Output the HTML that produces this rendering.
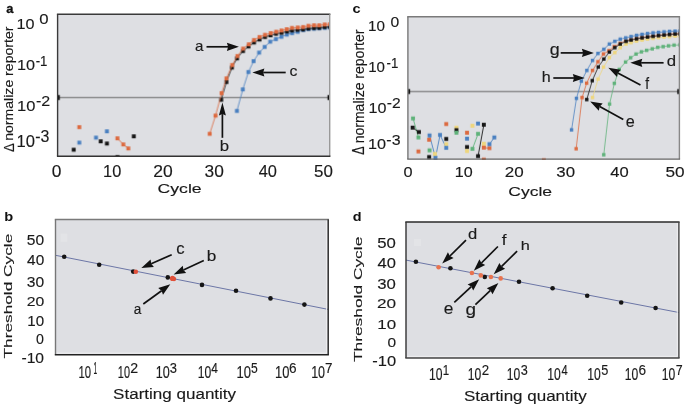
<!DOCTYPE html>
<html><head><meta charset="utf-8"><style>
html,body{margin:0;padding:0;background:#fff;}
svg{display:block;will-change:transform;}
text{font-family:"Liberation Sans",sans-serif;}
</style></head><body>
<svg width="685" height="406" viewBox="0 0 685 406">
<rect width="685" height="406" fill="#fff"/>
<rect x="57.6" y="14.2" width="272.09999999999997" height="142.0" fill="#dedfe3"/>
<svg x="57.6" y="14.2" width="272.09999999999997" height="142.0" overflow="hidden"><g transform="translate(-57.6,-14.2)">
<line x1="57.6" y1="97.5" x2="329.7" y2="97.5" stroke="#666666" stroke-width="1.0"/>
<rect x="57.6" y="95.0" width="2.2" height="5" fill="#111"/>
<rect x="327.5" y="95.0" width="2.2" height="5" fill="#111"/>
<polyline points="236.9,110.9 242.8,89.4 248.4,72.0 253.6,61.1 259.1,52.6 264.7,46.9 270.2,41.7 275.9,39.1 281.4,36.8 286.8,34.6 292.1,33.1 297.7,31.8 303.3,30.1 308.4,29.2 314.0,28.8 319.2,28.4 324.8,27.9 330.0,27.6" fill="none" stroke="#4a80c0" stroke-width="0.8"/>
<rect x="234.95" y="108.95" width="3.9" height="3.9" fill="#4a80c0"/>
<rect x="240.85" y="87.45" width="3.9" height="3.9" fill="#4a80c0"/>
<rect x="246.45" y="70.05" width="3.9" height="3.9" fill="#4a80c0"/>
<rect x="251.65" y="59.15" width="3.9" height="3.9" fill="#4a80c0"/>
<rect x="257.15" y="50.65" width="3.9" height="3.9" fill="#4a80c0"/>
<rect x="262.75" y="44.95" width="3.9" height="3.9" fill="#4a80c0"/>
<rect x="268.25" y="39.75" width="3.9" height="3.9" fill="#4a80c0"/>
<rect x="273.95" y="37.15" width="3.9" height="3.9" fill="#4a80c0"/>
<rect x="279.45" y="34.85" width="3.9" height="3.9" fill="#4a80c0"/>
<rect x="284.85" y="32.65" width="3.9" height="3.9" fill="#4a80c0"/>
<rect x="290.15" y="31.15" width="3.9" height="3.9" fill="#4a80c0"/>
<rect x="295.75" y="29.85" width="3.9" height="3.9" fill="#4a80c0"/>
<rect x="301.35" y="28.15" width="3.9" height="3.9" fill="#4a80c0"/>
<rect x="306.45" y="27.25" width="3.9" height="3.9" fill="#4a80c0"/>
<rect x="312.05" y="26.85" width="3.9" height="3.9" fill="#4a80c0"/>
<rect x="317.25" y="26.45" width="3.9" height="3.9" fill="#4a80c0"/>
<rect x="322.85" y="25.95" width="3.9" height="3.9" fill="#4a80c0"/>
<rect x="328.05" y="25.65" width="3.9" height="3.9" fill="#4a80c0"/>
<polyline points="221.2,99.8 226.4,82.0 231.9,67.6 237.0,58.4 243.0,51.0 248.5,46.5 254.0,42.5 259.5,39.5 265.0,37.0 270.5,35.3 276.0,33.8 281.5,32.8 287.0,31.5 292.0,30.5 297.5,29.8 303.0,29.5 308.4,28.5 314.0,28.0 319.2,27.8 324.7,27.0 330.0,26.8" fill="none" stroke="#151515" stroke-width="0.8"/>
<rect x="219.25" y="97.85" width="3.9" height="3.9" fill="#151515"/>
<rect x="224.45" y="80.05" width="3.9" height="3.9" fill="#151515"/>
<rect x="229.95" y="65.65" width="3.9" height="3.9" fill="#151515"/>
<rect x="235.05" y="56.45" width="3.9" height="3.9" fill="#151515"/>
<rect x="241.05" y="49.05" width="3.9" height="3.9" fill="#151515"/>
<rect x="246.55" y="44.55" width="3.9" height="3.9" fill="#151515"/>
<rect x="252.05" y="40.55" width="3.9" height="3.9" fill="#151515"/>
<rect x="257.55" y="37.55" width="3.9" height="3.9" fill="#151515"/>
<rect x="263.05" y="35.05" width="3.9" height="3.9" fill="#151515"/>
<rect x="268.55" y="33.35" width="3.9" height="3.9" fill="#151515"/>
<rect x="274.05" y="31.85" width="3.9" height="3.9" fill="#151515"/>
<rect x="279.55" y="30.85" width="3.9" height="3.9" fill="#151515"/>
<rect x="285.05" y="29.55" width="3.9" height="3.9" fill="#151515"/>
<rect x="290.05" y="28.55" width="3.9" height="3.9" fill="#151515"/>
<rect x="295.55" y="27.85" width="3.9" height="3.9" fill="#151515"/>
<rect x="301.05" y="27.55" width="3.9" height="3.9" fill="#151515"/>
<rect x="306.45" y="26.55" width="3.9" height="3.9" fill="#151515"/>
<rect x="312.05" y="26.05" width="3.9" height="3.9" fill="#151515"/>
<rect x="317.25" y="25.85" width="3.9" height="3.9" fill="#151515"/>
<rect x="322.75" y="25.05" width="3.9" height="3.9" fill="#151515"/>
<rect x="328.05" y="24.85" width="3.9" height="3.9" fill="#151515"/>
<polyline points="209.7,133.8 215.5,115.6 221.6,93.1 226.4,78.4 232.2,65.0 237.4,56.0 243.1,48.6 248.8,44.3 254.0,40.0 259.5,37.0 265.0,34.8 270.7,33.1 276.2,31.7 281.5,30.5 286.7,29.2 292.0,27.9 297.7,27.5 303.1,27.0 308.4,25.8 314.0,25.3 319.2,25.3 324.7,24.5 330.0,24.2" fill="none" stroke="#dc6a40" stroke-width="0.8"/>
<rect x="207.75" y="131.85" width="3.9" height="3.9" fill="#dc6a40"/>
<rect x="213.55" y="113.65" width="3.9" height="3.9" fill="#dc6a40"/>
<rect x="219.65" y="91.15" width="3.9" height="3.9" fill="#dc6a40"/>
<rect x="224.45" y="76.45" width="3.9" height="3.9" fill="#dc6a40"/>
<rect x="230.25" y="63.05" width="3.9" height="3.9" fill="#dc6a40"/>
<rect x="235.45" y="54.05" width="3.9" height="3.9" fill="#dc6a40"/>
<rect x="241.15" y="46.65" width="3.9" height="3.9" fill="#dc6a40"/>
<rect x="246.85" y="42.35" width="3.9" height="3.9" fill="#dc6a40"/>
<rect x="252.05" y="38.05" width="3.9" height="3.9" fill="#dc6a40"/>
<rect x="257.55" y="35.05" width="3.9" height="3.9" fill="#dc6a40"/>
<rect x="263.05" y="32.85" width="3.9" height="3.9" fill="#dc6a40"/>
<rect x="268.75" y="31.15" width="3.9" height="3.9" fill="#dc6a40"/>
<rect x="274.25" y="29.75" width="3.9" height="3.9" fill="#dc6a40"/>
<rect x="279.55" y="28.55" width="3.9" height="3.9" fill="#dc6a40"/>
<rect x="284.75" y="27.25" width="3.9" height="3.9" fill="#dc6a40"/>
<rect x="290.05" y="25.95" width="3.9" height="3.9" fill="#dc6a40"/>
<rect x="295.75" y="25.55" width="3.9" height="3.9" fill="#dc6a40"/>
<rect x="301.15" y="25.05" width="3.9" height="3.9" fill="#dc6a40"/>
<rect x="306.45" y="23.85" width="3.9" height="3.9" fill="#dc6a40"/>
<rect x="312.05" y="23.35" width="3.9" height="3.9" fill="#dc6a40"/>
<rect x="317.25" y="23.35" width="3.9" height="3.9" fill="#dc6a40"/>
<rect x="322.75" y="22.55" width="3.9" height="3.9" fill="#dc6a40"/>
<rect x="328.05" y="22.25" width="3.9" height="3.9" fill="#dc6a40"/>
<polyline points="117.4,138.3 123.3,144.4 128.3,148.4" fill="none" stroke="#dc6a40" stroke-width="0.9"/>
<rect x="77.35" y="125.15" width="3.9" height="3.9" fill="#dc6a40"/>
<rect x="115.45" y="136.35" width="3.9" height="3.9" fill="#dc6a40"/>
<rect x="121.35" y="142.45" width="3.9" height="3.9" fill="#dc6a40"/>
<rect x="126.35" y="146.45" width="3.9" height="3.9" fill="#dc6a40"/>
<rect x="77.35" y="140.65" width="3.9" height="3.9" fill="#4a80c0"/>
<rect x="94.05" y="135.65" width="3.9" height="3.9" fill="#4a80c0"/>
<rect x="104.95" y="129.35" width="3.9" height="3.9" fill="#4a80c0"/>
<rect x="71.75" y="147.75" width="3.9" height="3.9" fill="#151515"/>
<rect x="98.75" y="139.35" width="3.9" height="3.9" fill="#151515"/>
<rect x="104.95" y="141.55" width="3.9" height="3.9" fill="#151515"/>
<rect x="131.85" y="134.35" width="3.9" height="3.9" fill="#151515"/>
<rect x="115.45" y="155.05" width="3.9" height="3.9" fill="#151515"/>
</g></svg>
<line x1="56.9" y1="14.2" x2="330.4" y2="14.2" stroke="#3a3a3a" stroke-width="1.4"/>
<line x1="57.6" y1="14.2" x2="57.6" y2="156.2" stroke="#3a3a3a" stroke-width="1.4"/>
<line x1="329.7" y1="14.2" x2="329.7" y2="156.2" stroke="#999999" stroke-width="1.4"/>
<line x1="56.9" y1="156.2" x2="330.4" y2="156.2" stroke="#333333" stroke-width="1.4"/>
<line x1="206.5" y1="46.8" x2="228.1" y2="46.8" stroke="#111" stroke-width="1.7"/>
<polygon points="238.9,46.8 226.9,50.9 228.1,46.8 226.9,42.7" fill="#111"/>
<line x1="222.4" y1="137.8" x2="222.4" y2="114.1" stroke="#111" stroke-width="1.7"/>
<polygon points="222.4,102.4 225.9,115.4 222.4,114.1 218.9,115.4" fill="#111"/>
<line x1="285.7" y1="72.5" x2="263.2" y2="72.5" stroke="#111" stroke-width="1.7"/>
<polygon points="252.4,72.5 264.4,68.4 263.2,72.5 264.4,76.6" fill="#111"/>
<text transform="translate(194.89,50.77) scale(0.15196,0.15545)" font-size="100" font-weight="400" fill="#1a1a1a" stroke="#1a1a1a" stroke-width="0.976">a</text>
<text transform="translate(219.78,151.47) scale(0.16778,0.15034)" font-size="100" font-weight="400" fill="#1a1a1a" stroke="#1a1a1a" stroke-width="0.943">b</text>
<text transform="translate(289.46,76.47) scale(0.15930,0.15364)" font-size="100" font-weight="400" fill="#1a1a1a" stroke="#1a1a1a" stroke-width="0.959">c</text>
<text transform="translate(6.36,12.51) scale(0.12897,0.13636)" font-size="100" font-weight="700" fill="#111" stroke="#111" stroke-width="2.261">a</text>
<text transform="translate(16.61,28.78) scale(0.16181,0.14859)" font-size="100" font-weight="400" fill="#1a1a1a" stroke="#1a1a1a" stroke-width="0.966">10</text>
<text transform="translate(39.31,24.37) scale(0.16737,0.15423)" font-size="100" font-weight="400" fill="#1a1a1a" stroke="#1a1a1a" stroke-width="0.933">0</text>
<text transform="translate(16.96,70.07) scale(0.16231,0.15423)" font-size="100" font-weight="400" fill="#1a1a1a" stroke="#1a1a1a" stroke-width="0.948">10</text>
<text transform="translate(35.68,65.83) scale(0.13270,0.15290)" font-size="100" font-weight="400" fill="#1a1a1a" stroke="#1a1a1a" stroke-width="1.050">-1</text>
<text transform="translate(16.94,110.77) scale(0.16533,0.15282)" font-size="100" font-weight="400" fill="#1a1a1a" stroke="#1a1a1a" stroke-width="0.943">10</text>
<text transform="translate(35.95,105.83) scale(0.16038,0.14643)" font-size="100" font-weight="400" fill="#1a1a1a" stroke="#1a1a1a" stroke-width="0.978">-2</text>
<text transform="translate(16.58,146.97) scale(0.16583,0.15986)" font-size="100" font-weight="400" fill="#1a1a1a" stroke="#1a1a1a" stroke-width="0.921">10</text>
<text transform="translate(35.26,142.47) scale(0.15937,0.15845)" font-size="100" font-weight="400" fill="#1a1a1a" stroke="#1a1a1a" stroke-width="0.944">-3</text>
<text transform="translate(51.78,176.77) scale(0.17368,0.15845)" font-size="100" font-weight="400" fill="#1a1a1a" stroke="#1a1a1a" stroke-width="0.903">0</text>
<text transform="translate(103.05,176.77) scale(0.16332,0.15845)" font-size="100" font-weight="400" fill="#1a1a1a" stroke="#1a1a1a" stroke-width="0.932">10</text>
<text transform="translate(153.20,176.77) scale(0.17500,0.15845)" font-size="100" font-weight="400" fill="#1a1a1a" stroke="#1a1a1a" stroke-width="0.900">20</text>
<text transform="translate(204.58,176.77) scale(0.17330,0.15845)" font-size="100" font-weight="400" fill="#1a1a1a" stroke="#1a1a1a" stroke-width="0.904">30</text>
<text transform="translate(258.66,176.77) scale(0.16411,0.15845)" font-size="100" font-weight="400" fill="#1a1a1a" stroke="#1a1a1a" stroke-width="0.930">40</text>
<text transform="translate(314.00,176.77) scale(0.16942,0.15845)" font-size="100" font-weight="400" fill="#1a1a1a" stroke="#1a1a1a" stroke-width="0.915">50</text>
<text transform="translate(157.49,193.14) scale(0.17692,0.12781)" font-size="100" font-weight="400" fill="#1a1a1a" stroke="#1a1a1a" stroke-width="0.984">Cycle</text>
<text transform="translate(12.80,140.84) rotate(-90) scale(0.14091,0.12995)" font-size="100" font-weight="400" fill="#1a1a1a" stroke="#1a1a1a" stroke-width="1.108">normalize reporter</text>
<text transform="translate(13.58,152.12) rotate(-90) scale(0.13033,0.15290)" font-size="100" font-weight="400" fill="#1a1a1a" stroke="#1a1a1a" stroke-width="1.059">Δ</text>
<rect x="407.9" y="16.7" width="271.5" height="142.4" fill="#dedfe3"/>
<svg x="407.9" y="16.7" width="271.5" height="142.4" overflow="hidden"><g transform="translate(-407.9,-16.7)">
<line x1="407.9" y1="91.5" x2="679.4" y2="91.5" stroke="#666666" stroke-width="1.0"/>
<rect x="407.9" y="89.0" width="2.2" height="5" fill="#111"/>
<rect x="677.1999999999999" y="89.0" width="2.2" height="5" fill="#111"/>
<polyline points="592.5,97.5 598.0,79.0 603.5,67.0 609.3,57.5 614.8,52.5 620.2,47.6 626.0,44.0 631.0,42.5 636.5,41.0 642.0,40.0 647.5,39.0 653.0,38.3 658.5,37.5 664.0,37.0 669.5,36.5 675.0,36.0 680.0,35.8" fill="none" stroke="#eed67e" stroke-width="0.8"/>
<rect x="590.80" y="95.80" width="3.4" height="3.4" fill="#eed67e"/>
<rect x="596.30" y="77.30" width="3.4" height="3.4" fill="#eed67e"/>
<rect x="601.80" y="65.30" width="3.4" height="3.4" fill="#eed67e"/>
<rect x="607.60" y="55.80" width="3.4" height="3.4" fill="#eed67e"/>
<rect x="613.10" y="50.80" width="3.4" height="3.4" fill="#eed67e"/>
<rect x="618.50" y="45.90" width="3.4" height="3.4" fill="#eed67e"/>
<rect x="624.30" y="42.30" width="3.4" height="3.4" fill="#eed67e"/>
<rect x="629.30" y="40.80" width="3.4" height="3.4" fill="#eed67e"/>
<rect x="634.80" y="39.30" width="3.4" height="3.4" fill="#eed67e"/>
<rect x="640.30" y="38.30" width="3.4" height="3.4" fill="#eed67e"/>
<rect x="645.80" y="37.30" width="3.4" height="3.4" fill="#eed67e"/>
<rect x="651.30" y="36.60" width="3.4" height="3.4" fill="#eed67e"/>
<rect x="656.80" y="35.80" width="3.4" height="3.4" fill="#eed67e"/>
<rect x="662.30" y="35.30" width="3.4" height="3.4" fill="#eed67e"/>
<rect x="667.80" y="34.80" width="3.4" height="3.4" fill="#eed67e"/>
<rect x="673.30" y="34.30" width="3.4" height="3.4" fill="#eed67e"/>
<rect x="678.30" y="34.10" width="3.4" height="3.4" fill="#eed67e"/>
<polyline points="603.7,154.7 609.5,104.0 614.3,83.3 619.2,69.3 625.5,62.0 630.6,57.7 636.0,54.0 641.4,51.8 646.6,50.3 652.2,48.8 657.7,47.3 663.1,46.6 668.5,45.8 674.0,45.1 680.0,44.8" fill="none" stroke="#5fb27a" stroke-width="0.8"/>
<rect x="602.00" y="153.00" width="3.4" height="3.4" fill="#5fb27a"/>
<rect x="607.80" y="102.30" width="3.4" height="3.4" fill="#5fb27a"/>
<rect x="612.60" y="81.60" width="3.4" height="3.4" fill="#5fb27a"/>
<rect x="617.50" y="67.60" width="3.4" height="3.4" fill="#5fb27a"/>
<rect x="623.80" y="60.30" width="3.4" height="3.4" fill="#5fb27a"/>
<rect x="628.90" y="56.00" width="3.4" height="3.4" fill="#5fb27a"/>
<rect x="634.30" y="52.30" width="3.4" height="3.4" fill="#5fb27a"/>
<rect x="639.70" y="50.10" width="3.4" height="3.4" fill="#5fb27a"/>
<rect x="644.90" y="48.60" width="3.4" height="3.4" fill="#5fb27a"/>
<rect x="650.50" y="47.10" width="3.4" height="3.4" fill="#5fb27a"/>
<rect x="656.00" y="45.60" width="3.4" height="3.4" fill="#5fb27a"/>
<rect x="661.40" y="44.90" width="3.4" height="3.4" fill="#5fb27a"/>
<rect x="666.80" y="44.10" width="3.4" height="3.4" fill="#5fb27a"/>
<rect x="672.30" y="43.40" width="3.4" height="3.4" fill="#5fb27a"/>
<rect x="678.30" y="43.10" width="3.4" height="3.4" fill="#5fb27a"/>
<polyline points="576.1,148.7 582.0,97.5 586.6,83.1 592.5,70.4 597.9,61.7 603.4,53.9 608.9,50.6 614.2,46.6 620.2,43.3 625.7,40.8 631.0,39.6 636.5,38.5 642.0,37.5 647.5,36.7 653.0,36.0 658.5,35.3 664.0,34.7 669.5,34.2 675.0,33.7 680.0,33.5" fill="none" stroke="#dc6a40" stroke-width="0.8"/>
<rect x="574.40" y="147.00" width="3.4" height="3.4" fill="#dc6a40"/>
<rect x="580.30" y="95.80" width="3.4" height="3.4" fill="#dc6a40"/>
<rect x="584.90" y="81.40" width="3.4" height="3.4" fill="#dc6a40"/>
<rect x="590.80" y="68.70" width="3.4" height="3.4" fill="#dc6a40"/>
<rect x="596.20" y="60.00" width="3.4" height="3.4" fill="#dc6a40"/>
<rect x="601.70" y="52.20" width="3.4" height="3.4" fill="#dc6a40"/>
<rect x="607.20" y="48.90" width="3.4" height="3.4" fill="#dc6a40"/>
<rect x="612.50" y="44.90" width="3.4" height="3.4" fill="#dc6a40"/>
<rect x="618.50" y="41.60" width="3.4" height="3.4" fill="#dc6a40"/>
<rect x="624.00" y="39.10" width="3.4" height="3.4" fill="#dc6a40"/>
<rect x="629.30" y="37.90" width="3.4" height="3.4" fill="#dc6a40"/>
<rect x="634.80" y="36.80" width="3.4" height="3.4" fill="#dc6a40"/>
<rect x="640.30" y="35.80" width="3.4" height="3.4" fill="#dc6a40"/>
<rect x="645.80" y="35.00" width="3.4" height="3.4" fill="#dc6a40"/>
<rect x="651.30" y="34.30" width="3.4" height="3.4" fill="#dc6a40"/>
<rect x="656.80" y="33.60" width="3.4" height="3.4" fill="#dc6a40"/>
<rect x="662.30" y="33.00" width="3.4" height="3.4" fill="#dc6a40"/>
<rect x="667.80" y="32.50" width="3.4" height="3.4" fill="#dc6a40"/>
<rect x="673.30" y="32.00" width="3.4" height="3.4" fill="#dc6a40"/>
<rect x="678.30" y="31.80" width="3.4" height="3.4" fill="#dc6a40"/>
<polyline points="571.5,129.8 576.4,98.3 581.3,81.1 586.8,70.4 592.5,60.4 597.9,53.4 603.8,49.2 609.3,44.0 614.8,41.3 620.2,39.1 625.7,37.8 631.0,36.5 636.5,35.3 642.0,34.3 647.5,33.5 653.0,32.8 658.5,32.3 664.0,31.8 669.5,31.3 675.0,31.0 680.0,30.8" fill="none" stroke="#4a80c0" stroke-width="0.8"/>
<rect x="569.80" y="128.10" width="3.4" height="3.4" fill="#4a80c0"/>
<rect x="574.70" y="96.60" width="3.4" height="3.4" fill="#4a80c0"/>
<rect x="579.60" y="79.40" width="3.4" height="3.4" fill="#4a80c0"/>
<rect x="585.10" y="68.70" width="3.4" height="3.4" fill="#4a80c0"/>
<rect x="590.80" y="58.70" width="3.4" height="3.4" fill="#4a80c0"/>
<rect x="596.20" y="51.70" width="3.4" height="3.4" fill="#4a80c0"/>
<rect x="602.10" y="47.50" width="3.4" height="3.4" fill="#4a80c0"/>
<rect x="607.60" y="42.30" width="3.4" height="3.4" fill="#4a80c0"/>
<rect x="613.10" y="39.60" width="3.4" height="3.4" fill="#4a80c0"/>
<rect x="618.50" y="37.40" width="3.4" height="3.4" fill="#4a80c0"/>
<rect x="624.00" y="36.10" width="3.4" height="3.4" fill="#4a80c0"/>
<rect x="629.30" y="34.80" width="3.4" height="3.4" fill="#4a80c0"/>
<rect x="634.80" y="33.60" width="3.4" height="3.4" fill="#4a80c0"/>
<rect x="640.30" y="32.60" width="3.4" height="3.4" fill="#4a80c0"/>
<rect x="645.80" y="31.80" width="3.4" height="3.4" fill="#4a80c0"/>
<rect x="651.30" y="31.10" width="3.4" height="3.4" fill="#4a80c0"/>
<rect x="656.80" y="30.60" width="3.4" height="3.4" fill="#4a80c0"/>
<rect x="662.30" y="30.10" width="3.4" height="3.4" fill="#4a80c0"/>
<rect x="667.80" y="29.60" width="3.4" height="3.4" fill="#4a80c0"/>
<rect x="673.30" y="29.30" width="3.4" height="3.4" fill="#4a80c0"/>
<rect x="678.30" y="29.10" width="3.4" height="3.4" fill="#4a80c0"/>
<polyline points="586.7,99.5 592.2,80.6 598.2,66.9 603.8,59.0 609.3,52.0 614.8,47.6 620.2,44.0 626.0,41.3 631.0,40.0 636.5,38.8 642.0,37.8 647.5,37.0 653.0,36.3 658.5,35.6 664.0,35.0 669.5,34.5 675.0,34.0 680.0,33.8" fill="none" stroke="#151515" stroke-width="0.8"/>
<rect x="585.00" y="97.80" width="3.4" height="3.4" fill="#151515"/>
<rect x="590.50" y="78.90" width="3.4" height="3.4" fill="#151515"/>
<rect x="596.50" y="65.20" width="3.4" height="3.4" fill="#151515"/>
<rect x="602.10" y="57.30" width="3.4" height="3.4" fill="#151515"/>
<rect x="607.60" y="50.30" width="3.4" height="3.4" fill="#151515"/>
<rect x="613.10" y="45.90" width="3.4" height="3.4" fill="#151515"/>
<rect x="618.50" y="42.30" width="3.4" height="3.4" fill="#151515"/>
<rect x="624.30" y="39.60" width="3.4" height="3.4" fill="#151515"/>
<rect x="629.30" y="38.30" width="3.4" height="3.4" fill="#151515"/>
<rect x="634.80" y="37.10" width="3.4" height="3.4" fill="#151515"/>
<rect x="640.30" y="36.10" width="3.4" height="3.4" fill="#151515"/>
<rect x="645.80" y="35.30" width="3.4" height="3.4" fill="#151515"/>
<rect x="651.30" y="34.60" width="3.4" height="3.4" fill="#151515"/>
<rect x="656.80" y="33.90" width="3.4" height="3.4" fill="#151515"/>
<rect x="662.30" y="33.30" width="3.4" height="3.4" fill="#151515"/>
<rect x="667.80" y="32.80" width="3.4" height="3.4" fill="#151515"/>
<rect x="673.30" y="32.30" width="3.4" height="3.4" fill="#151515"/>
<rect x="678.30" y="32.10" width="3.4" height="3.4" fill="#151515"/>
<polyline points="413.0,118.4 418.4,137.4" fill="none" stroke="#5fb27a" stroke-width="0.9"/>
<polyline points="412.6,127.6 418.9,132.0" fill="none" stroke="#151515" stroke-width="0.9"/>
<polyline points="429.5,135.4 435.4,157.6 440.0,134.9 446.2,147.8" fill="none" stroke="#4a80c0" stroke-width="0.9"/>
<polyline points="472.4,148.8 478.0,133.8" fill="none" stroke="#5fb27a" stroke-width="0.9"/>
<polyline points="478.0,156.1 483.8,124.7" fill="none" stroke="#151515" stroke-width="0.9"/>
<polyline points="489.4,144.1 494.3,137.4" fill="none" stroke="#4a80c0" stroke-width="0.9"/>
<polyline points="483.8,147.6 489.4,148.1" fill="none" stroke="#dc6a40" stroke-width="0.9"/>
<rect x="411.05" y="116.45" width="3.9" height="3.9" fill="#5fb27a"/>
<rect x="410.65" y="125.65" width="3.9" height="3.9" fill="#151515"/>
<rect x="416.95" y="130.05" width="3.9" height="3.9" fill="#151515"/>
<rect x="416.45" y="135.45" width="3.9" height="3.9" fill="#5fb27a"/>
<rect x="416.45" y="149.45" width="3.9" height="3.9" fill="#dc6a40"/>
<rect x="427.55" y="133.45" width="3.9" height="3.9" fill="#4a80c0"/>
<rect x="427.15" y="137.75" width="3.9" height="3.9" fill="#dc6a40"/>
<rect x="427.55" y="148.35" width="3.9" height="3.9" fill="#5fb27a"/>
<rect x="427.15" y="155.05" width="3.9" height="3.9" fill="#151515"/>
<rect x="433.45" y="155.65" width="3.9" height="3.9" fill="#4a80c0"/>
<rect x="432.95" y="151.95" width="3.9" height="3.9" fill="#eed67e"/>
<rect x="438.05" y="132.95" width="3.9" height="3.9" fill="#4a80c0"/>
<rect x="444.25" y="122.05" width="3.9" height="3.9" fill="#dc6a40"/>
<rect x="444.25" y="136.95" width="3.9" height="3.9" fill="#151515"/>
<rect x="444.25" y="142.15" width="3.9" height="3.9" fill="#eed67e"/>
<rect x="444.25" y="145.85" width="3.9" height="3.9" fill="#4a80c0"/>
<rect x="454.45" y="125.65" width="3.9" height="3.9" fill="#eed67e"/>
<rect x="454.45" y="128.15" width="3.9" height="3.9" fill="#151515"/>
<rect x="454.45" y="130.75" width="3.9" height="3.9" fill="#5fb27a"/>
<rect x="465.05" y="130.75" width="3.9" height="3.9" fill="#dc6a40"/>
<rect x="465.05" y="136.65" width="3.9" height="3.9" fill="#4a80c0"/>
<rect x="465.05" y="145.05" width="3.9" height="3.9" fill="#151515"/>
<rect x="465.05" y="149.05" width="3.9" height="3.9" fill="#eed67e"/>
<rect x="470.45" y="123.75" width="3.9" height="3.9" fill="#eed67e"/>
<rect x="470.45" y="146.85" width="3.9" height="3.9" fill="#5fb27a"/>
<rect x="476.05" y="121.55" width="3.9" height="3.9" fill="#4a80c0"/>
<rect x="476.05" y="131.85" width="3.9" height="3.9" fill="#5fb27a"/>
<rect x="481.85" y="122.75" width="3.9" height="3.9" fill="#151515"/>
<rect x="476.05" y="154.15" width="3.9" height="3.9" fill="#151515"/>
<rect x="481.85" y="141.75" width="3.9" height="3.9" fill="#eed67e"/>
<rect x="481.85" y="145.65" width="3.9" height="3.9" fill="#dc6a40"/>
<rect x="487.45" y="146.15" width="3.9" height="3.9" fill="#dc6a40"/>
<rect x="487.45" y="142.15" width="3.9" height="3.9" fill="#4a80c0"/>
<rect x="492.35" y="135.45" width="3.9" height="3.9" fill="#4a80c0"/>
<rect x="481.85" y="157.55" width="3.9" height="3.9" fill="#dc6a40"/>
<rect x="541.85" y="158.25" width="3.9" height="3.9" fill="#dc6a40"/>
</g></svg>
<line x1="407.2" y1="16.7" x2="680.1" y2="16.7" stroke="#7a7a7a" stroke-width="1.4"/>
<line x1="407.9" y1="16.7" x2="407.9" y2="159.1" stroke="#777777" stroke-width="1.4"/>
<line x1="679.4" y1="16.7" x2="679.4" y2="159.1" stroke="#888888" stroke-width="1.4"/>
<line x1="407.2" y1="159.1" x2="680.1" y2="159.1" stroke="#666666" stroke-width="1.4"/>
<line x1="560.7" y1="52.9" x2="583.1" y2="52.9" stroke="#111" stroke-width="1.7"/>
<polygon points="593.9,52.9 581.9,57.0 583.1,52.9 581.9,48.8" fill="#111"/>
<line x1="553.3" y1="78.0" x2="574.0" y2="78.0" stroke="#111" stroke-width="1.7"/>
<polygon points="584.8,78.0 572.8,82.1 574.0,78.0 572.8,73.9" fill="#111"/>
<line x1="640.5" y1="85.0" x2="617.8" y2="72.9" stroke="#111" stroke-width="1.7"/>
<polygon points="608.3,67.8 620.8,69.8 617.8,72.9 617.0,77.1" fill="#111"/>
<line x1="623.3" y1="119.5" x2="599.7" y2="106.6" stroke="#111" stroke-width="1.7"/>
<polygon points="590.2,101.4 602.7,103.6 599.7,106.6 598.8,110.8" fill="#111"/>
<line x1="663.6" y1="62.8" x2="641.1" y2="62.8" stroke="#111" stroke-width="1.7"/>
<polygon points="630.3,62.8 642.3,58.7 641.1,62.8 642.3,66.9" fill="#111"/>
<text transform="translate(549.66,55.44) scale(0.17889,0.15638)" font-size="100" font-weight="400" fill="#1a1a1a" stroke="#1a1a1a" stroke-width="0.895">g</text>
<text transform="translate(541.65,81.62) scale(0.16071,0.14000)" font-size="100" font-weight="400" fill="#1a1a1a" stroke="#1a1a1a" stroke-width="0.998">h</text>
<text transform="translate(645.17,89.22) scale(0.13774,0.16483)" font-size="100" font-weight="400" fill="#1a1a1a" stroke="#1a1a1a" stroke-width="0.992">f</text>
<text transform="translate(625.74,127.36) scale(0.16237,0.16636)" font-size="100" font-weight="400" fill="#1a1a1a" stroke="#1a1a1a" stroke-width="0.913">e</text>
<text transform="translate(666.70,66.29) scale(0.16778,0.13810)" font-size="100" font-weight="400" fill="#1a1a1a" stroke="#1a1a1a" stroke-width="0.981">d</text>
<text transform="translate(352.61,12.68) scale(0.14639,0.12182)" font-size="100" font-weight="700" fill="#111" stroke="#111" stroke-width="0.000">c</text>
<text transform="translate(367.93,30.98) scale(0.15226,0.15000)" font-size="100" font-weight="400" fill="#1a1a1a" stroke="#1a1a1a" stroke-width="0.993">10</text>
<text transform="translate(390.45,26.88) scale(0.15684,0.15000)" font-size="100" font-weight="400" fill="#1a1a1a" stroke="#1a1a1a" stroke-width="0.978">0</text>
<text transform="translate(368.14,72.28) scale(0.15126,0.14859)" font-size="100" font-weight="400" fill="#1a1a1a" stroke="#1a1a1a" stroke-width="1.001">10</text>
<text transform="translate(386.48,67.62) scale(0.13270,0.15290)" font-size="100" font-weight="400" fill="#1a1a1a" stroke="#1a1a1a" stroke-width="1.050">-1</text>
<text transform="translate(368.47,113.07) scale(0.16131,0.15423)" font-size="100" font-weight="400" fill="#1a1a1a" stroke="#1a1a1a" stroke-width="0.951">10</text>
<text transform="translate(386.67,108.02) scale(0.15660,0.15071)" font-size="100" font-weight="400" fill="#1a1a1a" stroke="#1a1a1a" stroke-width="0.976">-2</text>
<text transform="translate(368.06,149.48) scale(0.16231,0.14859)" font-size="100" font-weight="400" fill="#1a1a1a" stroke="#1a1a1a" stroke-width="0.965">10</text>
<text transform="translate(386.36,145.07) scale(0.15937,0.15423)" font-size="100" font-weight="400" fill="#1a1a1a" stroke="#1a1a1a" stroke-width="0.957">-3</text>
<text transform="translate(403.62,176.78) scale(0.16316,0.14859)" font-size="100" font-weight="400" fill="#1a1a1a" stroke="#1a1a1a" stroke-width="0.962">0</text>
<text transform="translate(454.77,176.78) scale(0.16131,0.14859)" font-size="100" font-weight="400" fill="#1a1a1a" stroke="#1a1a1a" stroke-width="0.968">10</text>
<text transform="translate(504.82,176.78) scale(0.17010,0.14859)" font-size="100" font-weight="400" fill="#1a1a1a" stroke="#1a1a1a" stroke-width="0.941">20</text>
<text transform="translate(556.30,176.78) scale(0.16845,0.14859)" font-size="100" font-weight="400" fill="#1a1a1a" stroke="#1a1a1a" stroke-width="0.946">30</text>
<text transform="translate(610.16,176.78) scale(0.16603,0.14859)" font-size="100" font-weight="400" fill="#1a1a1a" stroke="#1a1a1a" stroke-width="0.954">40</text>
<text transform="translate(665.39,176.78) scale(0.17233,0.14859)" font-size="100" font-weight="400" fill="#1a1a1a" stroke="#1a1a1a" stroke-width="0.935">50</text>
<text transform="translate(508.20,195.57) scale(0.17568,0.13102)" font-size="100" font-weight="400" fill="#1a1a1a" stroke="#1a1a1a" stroke-width="0.978">Cycle</text>
<text transform="translate(364.04,143.34) rotate(-90) scale(0.14041,0.13743)" font-size="100" font-weight="400" fill="#1a1a1a" stroke="#1a1a1a" stroke-width="1.080">normalize reporter</text>
<text transform="translate(364.32,154.70) rotate(-90) scale(0.12541,0.15870)" font-size="100" font-weight="400" fill="#1a1a1a" stroke="#1a1a1a" stroke-width="1.056">Δ</text>
<rect x="55.5" y="219.5" width="272.7" height="135.2" fill="#dedfe3"/>
<rect x="60.6" y="233.6" width="6.7" height="8.2" fill="#e3e4e7"/>
<line x1="55.5" y1="255.3" x2="328.2" y2="309.4" stroke="#6c76a6" stroke-width="1.0"/>
<circle cx="64.2" cy="256.8" r="2.3" fill="#151515"/>
<circle cx="99.2" cy="264.7" r="2.3" fill="#151515"/>
<circle cx="133.2" cy="271.6" r="2.3" fill="#151515"/>
<circle cx="167.8" cy="277.4" r="2.3" fill="#151515"/>
<circle cx="202" cy="284.9" r="2.3" fill="#151515"/>
<circle cx="236" cy="290.8" r="2.3" fill="#151515"/>
<circle cx="270.5" cy="298.4" r="2.3" fill="#151515"/>
<circle cx="304.4" cy="304.6" r="2.3" fill="#151515"/>
<circle cx="135.8" cy="271.8" r="2.3" fill="#e0503a"/>
<circle cx="172.5" cy="278.4" r="2.6" fill="#e0503a"/>
<circle cx="174" cy="279" r="2.2" fill="#e0503a"/>
<polyline points="56.5,353.09999999999997 326.59999999999997,353.09999999999997 326.59999999999997,220.5" fill="none" stroke="#eeeef0" stroke-width="1"/>
<line x1="54.8" y1="219.5" x2="328.9" y2="219.5" stroke="#7a7a7a" stroke-width="1.4"/>
<line x1="55.5" y1="219.5" x2="55.5" y2="354.7" stroke="#777777" stroke-width="1.4"/>
<line x1="328.2" y1="219.5" x2="328.2" y2="354.7" stroke="#222222" stroke-width="1.4"/>
<line x1="54.8" y1="354.7" x2="328.9" y2="354.7" stroke="#222222" stroke-width="1.4"/>
<line x1="171.7" y1="254.7" x2="151.2" y2="263.7" stroke="#111" stroke-width="1.7"/>
<polygon points="141.3,268.1 150.6,259.5 151.2,263.7 153.9,267.0" fill="#111"/>
<line x1="203.8" y1="260.6" x2="183.4" y2="269.9" stroke="#111" stroke-width="1.7"/>
<polygon points="173.6,274.4 182.8,265.7 183.4,269.9 186.2,273.1" fill="#111"/>
<line x1="143.3" y1="304.0" x2="161.6" y2="290.7" stroke="#111" stroke-width="1.7"/>
<polygon points="170.3,284.3 163.0,294.7 161.6,290.7 158.2,288.1" fill="#111"/>
<text transform="translate(176.13,254.47) scale(0.16628,0.15909)" font-size="100" font-weight="400" fill="#1a1a1a" stroke="#1a1a1a" stroke-width="0.922">c</text>
<text transform="translate(206.76,261.38) scale(0.17222,0.14490)" font-size="100" font-weight="400" fill="#1a1a1a" stroke="#1a1a1a" stroke-width="0.946">b</text>
<text transform="translate(133.66,313.68) scale(0.13627,0.14091)" font-size="100" font-weight="400" fill="#1a1a1a" stroke="#1a1a1a" stroke-width="1.082">a</text>
<text transform="translate(4.25,220.57) scale(0.14653,0.13197)" font-size="100" font-weight="700" fill="#111" stroke="#111" stroke-width="0.000">b</text>
<text transform="translate(26.85,245.28) scale(0.15583,0.14437)" font-size="100" font-weight="400" fill="#1a1a1a" stroke="#1a1a1a" stroke-width="0.999">50</text>
<text transform="translate(27.09,265.08) scale(0.15359,0.14718)" font-size="100" font-weight="400" fill="#1a1a1a" stroke="#1a1a1a" stroke-width="0.997">40</text>
<text transform="translate(26.85,286.67) scale(0.15583,0.15563)" font-size="100" font-weight="400" fill="#1a1a1a" stroke="#1a1a1a" stroke-width="0.963">30</text>
<text transform="translate(26.69,306.49) scale(0.15735,0.13592)" font-size="100" font-weight="400" fill="#1a1a1a" stroke="#1a1a1a" stroke-width="1.023">20</text>
<text transform="translate(27.24,326.38) scale(0.15126,0.14437)" font-size="100" font-weight="400" fill="#1a1a1a" stroke="#1a1a1a" stroke-width="1.015">10</text>
<text transform="translate(36.11,343.98) scale(0.14211,0.15000)" font-size="100" font-weight="400" fill="#1a1a1a" stroke="#1a1a1a" stroke-width="1.027">0</text>
<text transform="translate(21.47,362.87) scale(0.15625,0.15423)" font-size="100" font-weight="400" fill="#1a1a1a" stroke="#1a1a1a" stroke-width="0.966">-10</text>
<text transform="translate(78.53,377.66) scale(0.11307,0.16408)" font-size="100" font-weight="400" fill="#1a1a1a" stroke="#1a1a1a" stroke-width="1.082">10</text>
<text transform="translate(93.58,373.62) scale(0.06628,0.15725)" font-size="100" font-weight="400" fill="#1a1a1a" stroke="#1a1a1a" stroke-width="1.342">1</text>
<text transform="translate(117.86,377.66) scale(0.10905,0.16408)" font-size="100" font-weight="400" fill="#1a1a1a" stroke="#1a1a1a" stroke-width="1.098">10</text>
<text transform="translate(130.37,373.12) scale(0.14176,0.14786)" font-size="100" font-weight="400" fill="#1a1a1a" stroke="#1a1a1a" stroke-width="1.036">2</text>
<text transform="translate(155.73,377.66) scale(0.12613,0.16408)" font-size="100" font-weight="400" fill="#1a1a1a" stroke="#1a1a1a" stroke-width="1.034">10</text>
<text transform="translate(169.86,372.98) scale(0.12872,0.14577)" font-size="100" font-weight="400" fill="#1a1a1a" stroke="#1a1a1a" stroke-width="1.093">3</text>
<text transform="translate(197.77,377.66) scale(0.12111,0.16408)" font-size="100" font-weight="400" fill="#1a1a1a" stroke="#1a1a1a" stroke-width="1.052">10</text>
<text transform="translate(211.28,373.12) scale(0.11900,0.15000)" font-size="100" font-weight="400" fill="#1a1a1a" stroke="#1a1a1a" stroke-width="1.115">4</text>
<text transform="translate(236.60,377.66) scale(0.13015,0.16408)" font-size="100" font-weight="400" fill="#1a1a1a" stroke="#1a1a1a" stroke-width="1.020">10</text>
<text transform="translate(251.09,372.98) scale(0.12105,0.14786)" font-size="100" font-weight="400" fill="#1a1a1a" stroke="#1a1a1a" stroke-width="1.116">5</text>
<text transform="translate(275.11,377.66) scale(0.12915,0.16408)" font-size="100" font-weight="400" fill="#1a1a1a" stroke="#1a1a1a" stroke-width="1.023">10</text>
<text transform="translate(288.90,372.98) scale(0.13587,0.14577)" font-size="100" font-weight="400" fill="#1a1a1a" stroke="#1a1a1a" stroke-width="1.065">6</text>
<text transform="translate(311.14,377.66) scale(0.12513,0.16408)" font-size="100" font-weight="400" fill="#1a1a1a" stroke="#1a1a1a" stroke-width="1.037">10</text>
<text transform="translate(325.10,373.12) scale(0.13516,0.15000)" font-size="100" font-weight="400" fill="#1a1a1a" stroke="#1a1a1a" stroke-width="1.052">7</text>
<text transform="translate(113.11,398.57) scale(0.17038,0.15027)" font-size="100" font-weight="400" fill="#1a1a1a" stroke="#1a1a1a" stroke-width="0.936">Starting quantity</text>
<text transform="translate(12.27,358.47) rotate(-90) scale(0.17270,0.11711)" font-size="100" font-weight="400" fill="#1a1a1a" stroke="#1a1a1a" stroke-width="1.035">Threshold Cycle</text>
<rect x="406" y="222" width="272.9" height="136" fill="#dedfe3"/>
<rect x="414" y="239" width="7" height="7" fill="#e3e4e7"/>
<line x1="406" y1="260.1" x2="678.9" y2="312.5" stroke="#6c76a6" stroke-width="1.0"/>
<circle cx="415.9" cy="261.8" r="2.3" fill="#151515"/>
<circle cx="450.4" cy="268.3" r="2.3" fill="#151515"/>
<circle cx="484.8" cy="277" r="2.3" fill="#151515"/>
<circle cx="519" cy="281.7" r="2.3" fill="#151515"/>
<circle cx="552.6" cy="288.3" r="2.3" fill="#151515"/>
<circle cx="587.2" cy="295.7" r="2.3" fill="#151515"/>
<circle cx="621.2" cy="302.5" r="2.3" fill="#151515"/>
<circle cx="655.6" cy="308" r="2.3" fill="#151515"/>
<circle cx="438.6" cy="267.2" r="2.3" fill="#e8734f"/>
<circle cx="471.9" cy="273" r="2.3" fill="#e8734f"/>
<circle cx="480.8" cy="275.4" r="2.3" fill="#e8734f"/>
<circle cx="490.9" cy="277" r="2.3" fill="#e8734f"/>
<circle cx="500.7" cy="278.4" r="2.3" fill="#e8734f"/>
<polyline points="407,356.4 677.3,356.4 677.3,223" fill="none" stroke="#eeeef0" stroke-width="1"/>
<line x1="405.3" y1="222" x2="679.6" y2="222" stroke="#2a2a2a" stroke-width="1.4"/>
<line x1="406" y1="222" x2="406" y2="358" stroke="#333333" stroke-width="1.4"/>
<line x1="678.9" y1="222" x2="678.9" y2="358" stroke="#444444" stroke-width="1.4"/>
<line x1="405.3" y1="358" x2="679.6" y2="358" stroke="#444444" stroke-width="1.4"/>
<line x1="466.0" y1="240.2" x2="449.9" y2="256.0" stroke="#111" stroke-width="1.7"/>
<polygon points="442.2,263.6 447.9,252.3 449.9,256.0 453.6,258.1" fill="#111"/>
<line x1="497.9" y1="246.5" x2="481.4" y2="263.0" stroke="#111" stroke-width="1.7"/>
<polygon points="473.8,270.7 479.4,259.3 481.4,263.0 485.2,265.1" fill="#111"/>
<line x1="517.1" y1="251.2" x2="501.4" y2="266.6" stroke="#111" stroke-width="1.7"/>
<polygon points="493.7,274.2 499.4,262.9 501.4,266.6 505.1,268.7" fill="#111"/>
<line x1="454.3" y1="302.3" x2="471.3" y2="286.6" stroke="#111" stroke-width="1.7"/>
<polygon points="479.2,279.3 473.2,290.5 471.3,286.6 467.6,284.4" fill="#111"/>
<line x1="475.4" y1="304.6" x2="490.5" y2="290.4" stroke="#111" stroke-width="1.7"/>
<polygon points="498.4,283.0 492.5,294.2 490.5,290.4 486.8,288.2" fill="#111"/>
<text transform="translate(468.11,238.57) scale(0.16556,0.15170)" font-size="100" font-weight="400" fill="#1a1a1a" stroke="#1a1a1a" stroke-width="0.946">d</text>
<text transform="translate(501.72,244.83) scale(0.17170,0.14276)" font-size="100" font-weight="400" fill="#1a1a1a" stroke="#1a1a1a" stroke-width="0.954">f</text>
<text transform="translate(520.73,249.53) scale(0.16310,0.12759)" font-size="100" font-weight="400" fill="#1a1a1a" stroke="#1a1a1a" stroke-width="1.032">h</text>
<text transform="translate(443.80,313.76) scale(0.17312,0.16818)" font-size="100" font-weight="400" fill="#1a1a1a" stroke="#1a1a1a" stroke-width="0.879">e</text>
<text transform="translate(465.62,315.03) scale(0.19000,0.17114)" font-size="100" font-weight="400" fill="#1a1a1a" stroke="#1a1a1a" stroke-width="0.831">g</text>
<text transform="translate(352.82,220.57) scale(0.14455,0.13469)" font-size="100" font-weight="700" fill="#111" stroke="#111" stroke-width="0.000">d</text>
<text transform="translate(377.21,248.07) scale(0.16748,0.15141)" font-size="100" font-weight="400" fill="#1a1a1a" stroke="#1a1a1a" stroke-width="0.941">50</text>
<text transform="translate(377.46,267.77) scale(0.16507,0.15141)" font-size="100" font-weight="400" fill="#1a1a1a" stroke="#1a1a1a" stroke-width="0.948">40</text>
<text transform="translate(377.21,288.58) scale(0.16748,0.15000)" font-size="100" font-weight="400" fill="#1a1a1a" stroke="#1a1a1a" stroke-width="0.945">30</text>
<text transform="translate(377.01,308.49) scale(0.17206,0.13592)" font-size="100" font-weight="400" fill="#1a1a1a" stroke="#1a1a1a" stroke-width="0.974">20</text>
<text transform="translate(377.30,329.19) scale(0.16935,0.13592)" font-size="100" font-weight="400" fill="#1a1a1a" stroke="#1a1a1a" stroke-width="0.983">10</text>
<text transform="translate(387.46,346.89) scale(0.15474,0.13592)" font-size="100" font-weight="400" fill="#1a1a1a" stroke="#1a1a1a" stroke-width="1.032">0</text>
<text transform="translate(372.23,365.67) scale(0.16507,0.15141)" font-size="100" font-weight="400" fill="#1a1a1a" stroke="#1a1a1a" stroke-width="0.948">-10</text>
<text transform="translate(429.07,379.77) scale(0.12111,0.15704)" font-size="100" font-weight="400" fill="#1a1a1a" stroke="#1a1a1a" stroke-width="1.079">10</text>
<text transform="translate(442.71,375.32) scale(0.11512,0.15435)" font-size="100" font-weight="400" fill="#1a1a1a" stroke="#1a1a1a" stroke-width="1.113">1</text>
<text transform="translate(467.87,379.77) scale(0.12111,0.15704)" font-size="100" font-weight="400" fill="#1a1a1a" stroke="#1a1a1a" stroke-width="1.079">10</text>
<text transform="translate(481.71,375.32) scale(0.13297,0.15214)" font-size="100" font-weight="400" fill="#1a1a1a" stroke="#1a1a1a" stroke-width="1.052">2</text>
<text transform="translate(506.87,379.77) scale(0.12111,0.15704)" font-size="100" font-weight="400" fill="#1a1a1a" stroke="#1a1a1a" stroke-width="1.079">10</text>
<text transform="translate(520.87,375.18) scale(0.12660,0.15000)" font-size="100" font-weight="400" fill="#1a1a1a" stroke="#1a1a1a" stroke-width="1.085">3</text>
<text transform="translate(547.37,379.77) scale(0.12111,0.15704)" font-size="100" font-weight="400" fill="#1a1a1a" stroke="#1a1a1a" stroke-width="1.079">10</text>
<text transform="translate(561.60,375.32) scale(0.11100,0.15435)" font-size="100" font-weight="400" fill="#1a1a1a" stroke="#1a1a1a" stroke-width="1.131">4</text>
<text transform="translate(587.17,379.77) scale(0.12111,0.15704)" font-size="100" font-weight="400" fill="#1a1a1a" stroke="#1a1a1a" stroke-width="1.079">10</text>
<text transform="translate(601.17,375.17) scale(0.12737,0.15214)" font-size="100" font-weight="400" fill="#1a1a1a" stroke="#1a1a1a" stroke-width="1.073">5</text>
<text transform="translate(624.67,379.77) scale(0.12111,0.15704)" font-size="100" font-weight="400" fill="#1a1a1a" stroke="#1a1a1a" stroke-width="1.079">10</text>
<text transform="translate(638.50,375.18) scale(0.13587,0.15000)" font-size="100" font-weight="400" fill="#1a1a1a" stroke="#1a1a1a" stroke-width="1.049">6</text>
<text transform="translate(661.77,379.77) scale(0.12111,0.15704)" font-size="100" font-weight="400" fill="#1a1a1a" stroke="#1a1a1a" stroke-width="1.079">10</text>
<text transform="translate(675.65,375.32) scale(0.12418,0.15435)" font-size="100" font-weight="400" fill="#1a1a1a" stroke="#1a1a1a" stroke-width="1.077">7</text>
<text transform="translate(464.01,401.45) scale(0.16997,0.15134)" font-size="100" font-weight="400" fill="#1a1a1a" stroke="#1a1a1a" stroke-width="0.934">Starting quantity</text>
<text transform="translate(362.13,362.07) rotate(-90) scale(0.17367,0.11390)" font-size="100" font-weight="400" fill="#1a1a1a" stroke="#1a1a1a" stroke-width="1.043">Threshold Cycle</text>
</svg>
</body></html>
